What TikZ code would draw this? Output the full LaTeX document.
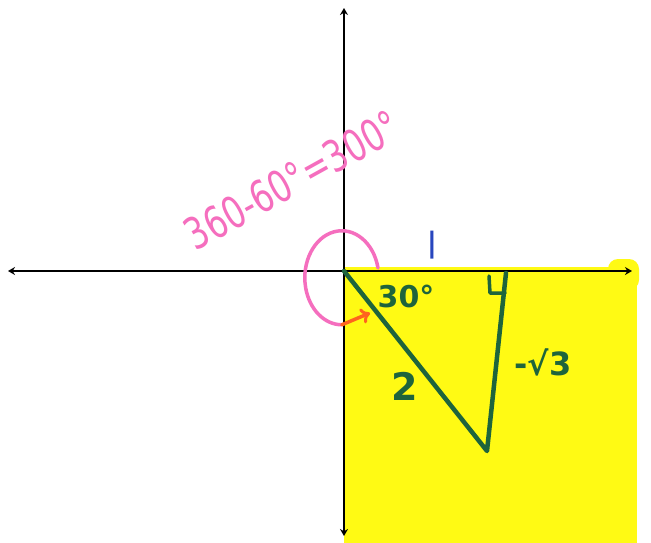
\documentclass[tikz,border=0pt]{standalone}
\usepackage{fontspec}
\setmainfont{DejaVu Sans}
\usetikzlibrary{arrows.meta}
\definecolor{hiyellow}{RGB}{255,250,20}
\definecolor{mgreen}{RGB}{30,100,60}
\definecolor{mpink}{RGB}{245,110,190}
\definecolor{mblue}{RGB}{40,70,190}
\definecolor{morange}{RGB}{255,100,30}
\tikzset{
  axis/.style={line width=1.8pt, black, -{Stealth[length=7pt,width=8pt]}},
  greenline/.style={line width=4.5pt, mgreen, line join=round, line cap=round},
  greentext/.style={text=mgreen, font=\bfseries\fontsize{30}{30}\selectfont, inner sep=0pt},
}
\begin{document}
\begin{tikzpicture}[x=1pt,y=-1pt]
\useasboundingbox (0,0) rectangle (651,543);
\fill[white] (0,0) rectangle (651,543);
% highlight
\fill[hiyellow] (344,267) rectangle (637,543);
\fill[hiyellow, rounded corners=10pt] (608,259) rectangle (639,290);
% named points
\coordinate (O) at (344,271);
\coordinate (xl) at (8,271);
\coordinate (xr) at (632,271);
\coordinate (yt) at (344,8);
\coordinate (yb) at (344,536);
\coordinate (B) at (506,273);
\coordinate (C) at (487,451);
\coordinate (R1) at (489,276);
\coordinate (R2) at (490,293);
\coordinate (R3) at (505,293);
% axes
\draw[axis] (O) -- (xl);
\draw[axis] (O) -- (xr);
\draw[axis] (O) -- (yt);
\draw[axis] (O) -- (yb);
% triangle
\draw[greenline] (O) -- (C) -- (B);
\draw[greenline, line width=3.5pt] (R1) -- (R2) -- (R3);
% pink arc and orange arrow
\coordinate (arcstart) at (378,268);
\draw[mpink, line width=3.5pt, line cap=round] (arcstart) arc[start angle=-12, end angle=-270, x radius=37, y radius=47] coordinate (arcend);
\coordinate (tip) at (370,313);
\draw[morange, line width=3.5pt, line cap=round, -{To[length=9pt,width=16pt,line width=3pt]}] (arcend) -- (tip);
% labels
\node[text=mpink, rotate=29, font=\fontsize{44}{44}\selectfont, xscale=0.74, inner sep=0pt] (calc) at (292,180) {360-60°=300°};
\node[text=mblue, font=\bfseries\fontsize{28}{28}\selectfont, inner sep=0pt] (one) at (432,245) {|};
\node[greentext] (ang) at (406,296) {30°};
\node[greentext, font=\bfseries\fontsize{38}{38}\selectfont] (hyp) at (405,386) {2};
\node[greentext, font=\bfseries\fontsize{32}{32}\selectfont] (opp) at (543,362) {-√3};
\end{tikzpicture}
\end{document}
